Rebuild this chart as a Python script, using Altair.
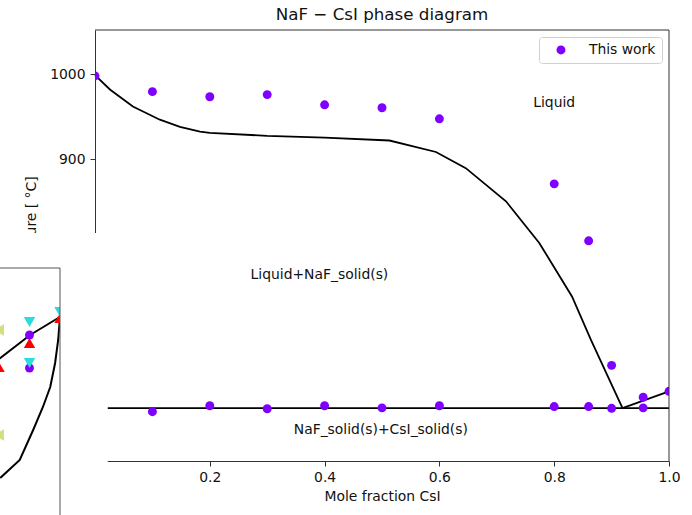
import altair as alt
import pandas as pd

FONT = "DejaVu Sans"
PURPLE = "#8000ff"

# ---- NaF - CsI main diagram -------------------------------------------
# Experimental points ("This work"): liquidus then eutectic arrest
work_x = [0.0, 0.1, 0.2, 0.3, 0.4, 0.5, 0.6, 0.8, 0.86, 0.9, 0.955, 1.0,
          0.1, 0.2, 0.3, 0.4, 0.5, 0.6, 0.8, 0.86, 0.9, 0.955]
work_T = [998, 979.5, 973.5, 976, 964, 960.5, 947.5, 871, 804, 657.5, 620, 627,
          603, 610, 606.5, 610, 607.5, 610, 609, 609, 607, 607.5]

# Calculated liquidus
liq_x = [0.0, 0.026, 0.066, 0.113, 0.148, 0.183, 0.2, 0.3, 0.4, 0.513,
         0.594, 0.646, 0.716, 0.774, 0.831, 0.864, 0.919, 1.0]
liq_T = [999, 982, 962, 946.5, 938, 932.5, 931, 927.5, 925.5, 922,
         908.5, 889.5, 850.5, 801.5, 738.5, 687.5, 607.3, 627]

# Eutectic isotherm
eut_x = [0.0, 1.0]
eut_T = [607.3, 607.3]

# Phase-field labels
lab_text = ["Liquid", "Liquid+NaF_solid(s)", "NaF_solid(s)+CsI_solid(s)"]
lab_x = [0.8, 0.391, 0.498]
lab_T = [966.5, 764, 582]

x_ticks = [0.0, 0.2, 0.4, 0.6, 0.8, 1.0]
y_ticks = [600, 700, 800, 900, 1000]

# ---- inset panel (near x = 1) -------------------------------------------
in_curve_a_x = [0.9, 0.951, 0.997, 1.0]
in_curve_a_T = [609, 633, 650, 651]
in_curve_b_x = [0.902, 0.934, 0.956, 0.972, 0.984, 0.992, 0.997, 1.0]
in_curve_b_T = [490, 508, 538, 561, 581, 605, 628, 651]

in_circle_x = [0.95, 0.95]
in_circle_T = [633, 600]
in_up_x = [0.9, 0.95, 1.0]
in_up_T = [601, 625, 650]
in_down_x = [0.95, 0.95, 1.0]
in_down_T = [646, 605, 656]
in_left_x = [0.9, 0.9]
in_left_T = [638, 533]

# ------------------------------------------------------------------------
W, H = 574, 431

xs = alt.Scale(domain=[0.0, 1.0], nice=False, zero=False)
ys = alt.Scale(domain=[545, 1052], nice=False, zero=False)
x_axis = alt.Axis(values=x_ticks, format=".1f", title="Mole fraction CsI",
                  grid=False, tickSize=5, labelPadding=4, titlePadding=6,
                  labelFlush=False)
y_axis = alt.Axis(values=y_ticks, format="d", title="Temperature [ °C]",
                  grid=False, tickSize=5, labelPadding=5, titlePadding=11,
                  titleY=208, labelFlush=False)

X = alt.X("x:Q", scale=xs, axis=x_axis)
Y = alt.Y("T:Q", scale=ys, axis=y_axis)

work_df = pd.DataFrame({"x": work_x, "T": work_T, "src": "This work"})
liq_df = pd.DataFrame({"x": liq_x, "T": liq_T})
eut_df = pd.DataFrame({"x": eut_x, "T": eut_T})
lab_df = pd.DataFrame({"x": lab_x, "T": lab_T, "label": lab_text})
blank = alt.Data(values=[{}])

eut = alt.Chart(eut_df).mark_line(color="black", strokeWidth=1.8).encode(x=X, y=Y)
liq = alt.Chart(liq_df).mark_line(color="black", strokeWidth=1.8).encode(x=X, y=Y)
pts = alt.Chart(work_df).mark_circle(size=80, opacity=1, clip=True).encode(
    x=X, y=Y,
    color=alt.Color(
        "src:N",
        scale=alt.Scale(domain=["This work"], range=[PURPLE]),
        legend=alt.Legend(
            title=None, orient="none", legendX=444, legendY=7,
            fillColor="white", strokeColor="#d0d0d0", cornerRadius=3,
            padding=6, symbolOffset=9, labelOffset=21,
            labelFont=FONT, labelFontSize=13.9, labelColor="#111",
            symbolType="circle", symbolSize=80, symbolOpacity=1,
            symbolStrokeWidth=0,
        ),
    ),
)
labels = alt.Chart(lab_df).mark_text(
    font=FONT, fontSize=13.9, color="#111", align="center", baseline="middle"
).encode(x=X, y=Y, text="label:N")

frame_top = alt.Chart(blank).mark_rule(color="#333", strokeWidth=1).encode(
    x=alt.value(0), x2=alt.value(W), y=alt.value(0))
frame_right = alt.Chart(blank).mark_rule(color="#333", strokeWidth=1).encode(
    x=alt.value(W), y=alt.value(0), y2=alt.value(H))

# white panel that carries the inset in the lower-left corner
mask = alt.Chart(blank).mark_rect(color="white", strokeWidth=0).encode(
    x=alt.value(-95), x2=alt.value(12.5), y=alt.value(203), y2=alt.value(485))

main = alt.layer(eut, liq, pts, labels, frame_top, frame_right, mask)

# inset, with its own scales placed in the corner
xi = alt.Scale(domain=[0.9, 1.0], range=[-96, -35], nice=False, zero=False)
yi = alt.Scale(domain=[450, 700], range=[488, 238], nice=False, zero=False)
XI = alt.X("x:Q", scale=xi, axis=None)
YI = alt.Y("T:Q", scale=yi, axis=None)

curves = pd.concat([
    pd.DataFrame({"x": in_curve_a_x, "T": in_curve_a_T, "c": "a"}),
    pd.DataFrame({"x": in_curve_b_x, "T": in_curve_b_T, "c": "b"}),
])
in_lines = alt.Chart(curves).mark_line(color="black", strokeWidth=2).encode(
    x=XI, y=YI, detail="c:N")


def markers(xv, tv, shape, color, size):
    df = pd.DataFrame({"x": xv, "T": tv})
    return alt.Chart(df).mark_point(
        shape=shape, filled=True, color=color, size=size, opacity=1, strokeWidth=0
    ).encode(x=XI, y=YI)


in_left = markers(in_left_x, in_left_T, "triangle-left", "#d4dd80", 130)
in_up = markers(in_up_x, in_up_T, "triangle-up", "#ff0000", 130)
in_circ = markers(in_circle_x, in_circle_T, "circle", PURPLE, 80)
in_down = markers(in_down_x, in_down_T, "triangle-down", "#2adddd", 130)

strip = alt.Chart(blank).mark_rect(color="white", strokeWidth=0).encode(
    x=alt.value(-35), x2=alt.value(12.5), y=alt.value(203), y2=alt.value(485))
in_right = alt.Chart(blank).mark_rule(color="#555", strokeWidth=1).encode(
    x=alt.value(-35), y=alt.value(238), y2=alt.value(485))
in_top = alt.Chart(blank).mark_rule(color="#555", strokeWidth=1).encode(
    x=alt.value(-95), x2=alt.value(-35), y=alt.value(238))

inset = alt.layer(in_lines, in_left, in_up, in_circ, in_down, strip, in_right, in_top)

chart = (
    alt.layer(main, inset)
    .resolve_scale(x="independent", y="independent")
    .properties(
        width=W, height=H,
        background="white",
        title=alt.TitleParams(
            "NaF − CsI phase diagram", font=FONT, fontSize=16.7,
            fontWeight="normal", color="#111", anchor="middle",
            frame="group", baseline="bottom", offset=5, dy=16,
        ),
        padding={"left": 95, "top": 30, "right": 23, "bottom": 54},
        autosize=alt.AutoSizeParams(type="none"),
    )
    .configure_view(stroke=None)
    .configure_axis(
        labelFont=FONT, titleFont=FONT, labelFontSize=13.9, titleFontSize=13.9,
        titleFontWeight="normal", labelColor="#111", titleColor="#111",
        domainColor="#333", tickColor="#333", domainWidth=1, tickWidth=1,
    )
)

chart.save("out.html", embed_options={"renderer": "svg", "actions": False})
